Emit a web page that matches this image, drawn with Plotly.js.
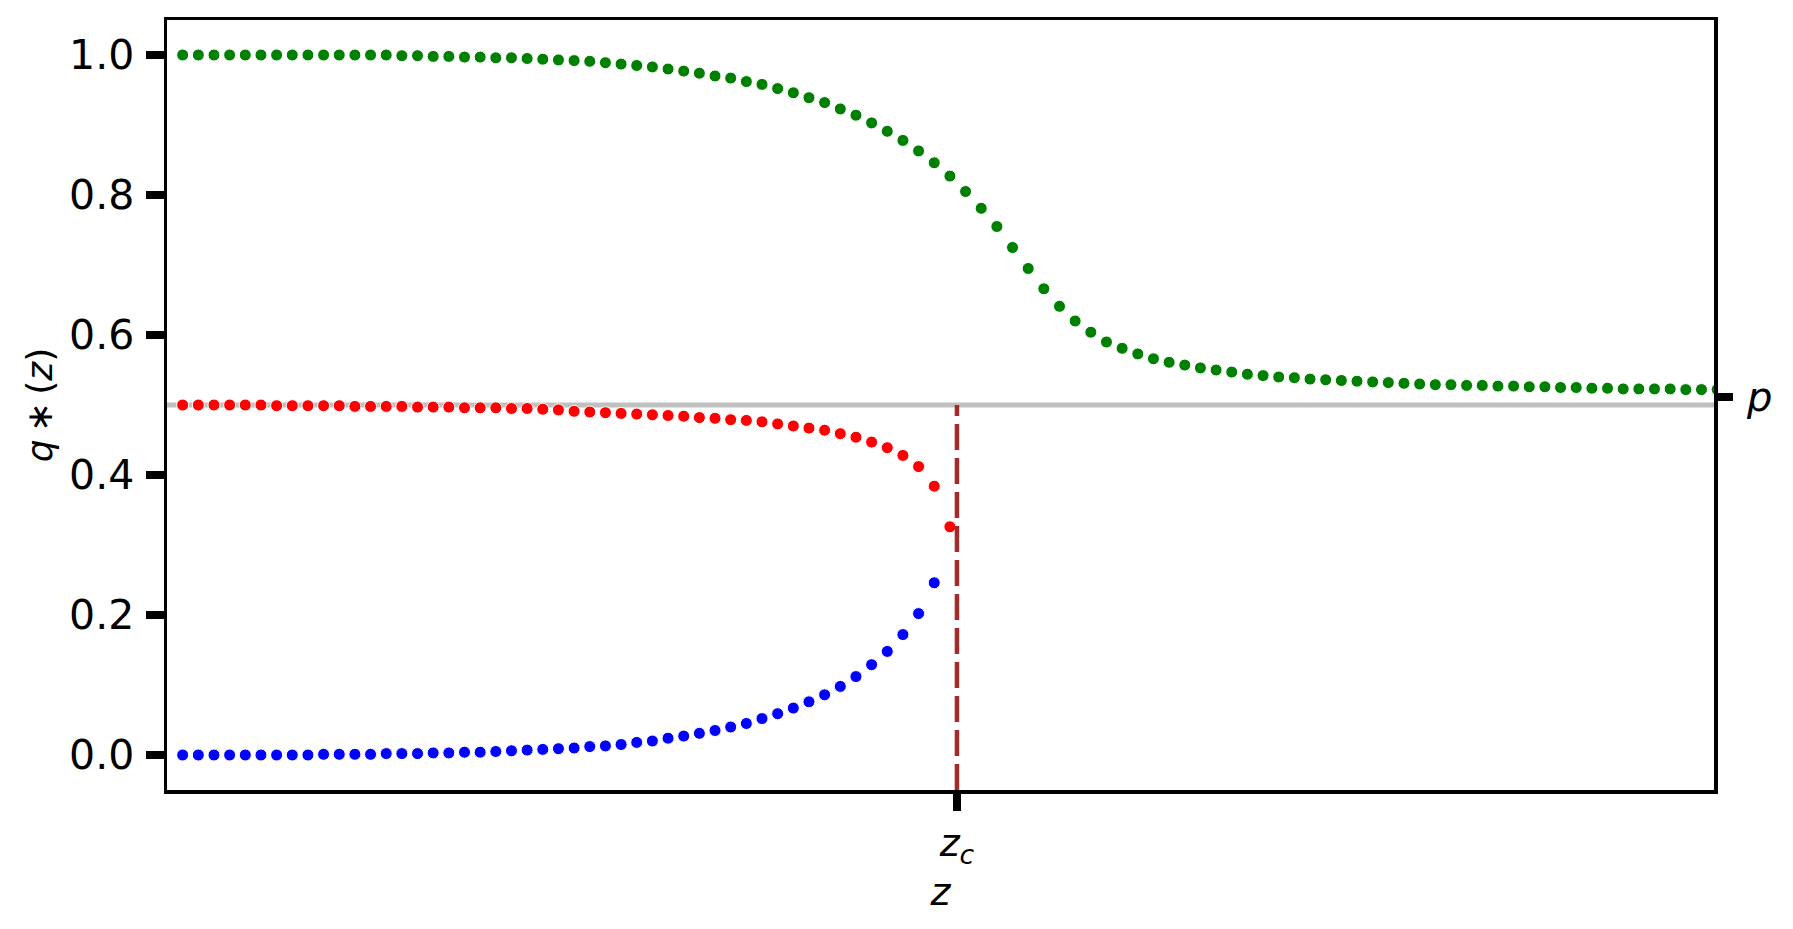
<!DOCTYPE html>
<html>
<head>
<meta charset="utf-8">
<script src="https://cdn.plot.ly/plotly-3.0.1.min.js"></script>
<style>html,body{margin:0;padding:0;background:#fff;}#chart{width:1793px;height:929px;}</style>
</head>
<body>
<div id="chart"></div>
<script>
// z grid (sample index along z)
const zGreen = [0,1,2,3,4,5,6,7,8,9,10,11,12,13,14,15,16,17,18,19,20,21,22,23,24,25,26,27,28,29,30,31,32,33,34,35,36,37,38,39,40,41,42,43,44,45,46,47,48,49,50,51,52,53,54,55,56,57,58,59,60,61,62,63,64,65,66,67,68,69,70,71,72,73,74,75,76,77,78,79,80,81,82,83,84,85,86,87,88,89,90,91,92,93,94,95,96,97,98];
const qGreen = [1.000,1.000,1.000,1.000,1.000,1.000,1.000,1.000,1.000,1.000,1.000,1.000,1.000,
  1.000,0.999,0.999,0.998,0.998,0.997,0.997,0.996,0.996,0.995,0.994,0.993,0.992,0.991,0.989,0.987,0.985,
  0.983,0.980,0.977,0.974,0.970,0.967,0.962,0.958,0.952,0.946,0.939,0.932,0.923,0.914,0.903,0.891,0.878,0.863,0.846,0.827,
  0.805,0.781,0.755,0.725,0.695,0.666,0.641,0.620,0.604,0.590,0.581,0.573,0.566,0.561,0.557,0.553,0.550,0.547,0.544,0.542,
  0.540,0.539,0.537,0.536,0.535,0.534,0.533,0.532,0.531,0.530,0.529,0.529,0.528,0.528,0.527,0.527,0.526,0.526,0.525,0.525,
  0.524,0.524,0.523,0.523,0.523,0.523,0.522,0.522,0.522];

const zRed = [0,1,2,3,4,5,6,7,8,9,10,11,12,13,14,15,16,17,18,19,20,21,22,23,24,25,26,27,28,29,30,31,32,33,34,35,36,37,38,39,40,41,42,43,44,45,46,47,48,49];
const qRed = [0.500,0.500,0.500,0.500,0.500,0.500,0.499,0.499,0.499,0.499,0.499,0.498,0.498,0.498,0.498,
  0.497,0.497,0.497,0.496,0.496,0.496,0.495,0.495,0.494,0.493,0.491,0.490,0.489,0.488,0.487,
  0.486,0.485,0.484,0.482,0.481,0.479,0.478,0.476,0.473,0.470,0.467,0.464,0.459,0.454,0.447,
  0.439,0.428,0.412,0.384,0.326];

const zBlue = [0,1,2,3,4,5,6,7,8,9,10,11,12,13,14,15,16,17,18,19,20,21,22,23,24,25,26,27,28,29,30,31,32,33,34,35,36,37,38,39,40,41,42,43,44,45,46,47,48];
const qBlue = [0.000,0.000,0.000,0.000,0.000,0.000,0.000,0.000,0.000,0.001,0.001,0.001,0.001,
  0.002,0.002,0.002,0.003,0.003,0.004,0.004,0.005,0.006,0.007,0.008,0.009,0.010,0.012,0.013,0.015,0.018,
  0.020,0.024,0.027,0.031,0.035,0.040,0.045,0.052,0.059,0.067,0.076,0.086,0.098,0.112,0.129,0.148,0.172,0.202,0.246];

const P_LINE = 0.5;          // horizontal reference p
const P_TICK = 0.511;        // where the right-hand "p" tick sits
const Z_C = 49.45;           // critical z
const yTicks = [0.0, 0.2, 0.4, 0.6, 0.8, 1.0];
const Z_RANGE = [-1, 97.8];
const Q_RANGE = [-0.05, 1.05];

const FONT = 'DejaVu Sans';
function dots(x, y, color) {
  return {x: x, y: y, type: 'scatter', mode: 'markers', cliponaxis: true, showlegend: false, hoverinfo: 'skip',
    marker: {color: color, size: 12, line: {color: '#ffffff', width: 1}}};
}

const data = [
  dots(zBlue, qBlue, '#0000ff'),
  dots(zRed, qRed, '#ff0000'),
  dots(zGreen, qGreen, '#008000')
];

const layout = {
  width: 1793, height: 929,
  margin: {l: 167, r: 79, t: 20, b: 139},
  paper_bgcolor: '#ffffff', plot_bgcolor: '#ffffff',
  font: {family: FONT, size: 36, color: '#000'},
  showlegend: false,
  xaxis: {
    range: Z_RANGE, showgrid: false, zeroline: false,
    showline: true, mirror: true, linecolor: '#000', linewidth: 3.5,
    ticks: 'outside', ticklen: 17, tickwidth: 8, tickcolor: '#000',
    tickvals: [Z_C], ticktext: ['<i>z</i><sub><i>c</i></sub>'],
    tickfont: {family: FONT, size: 38},
    ticklabelstandoff: 0,
    title: {text: '<i>z</i>', font: {family: FONT, size: 38}, standoff: 4}
  },
  yaxis: {
    range: Q_RANGE, showgrid: false, zeroline: false,
    showline: true, mirror: true, linecolor: '#000', linewidth: 3.5,
    ticks: 'outside', ticklen: 18, tickwidth: 8, tickcolor: '#000',
    tickvals: yTicks, tickformat: '.1f',
    tickfont: {family: FONT, size: 41},
    ticklabelstandoff: 3,
    title: {text: '<i>q</i>\u2009\u2217\u2009(<i>z</i>)', font: {family: FONT, size: 36}, standoff: 6}
  },
  yaxis2: {
    range: Q_RANGE, overlaying: 'y', side: 'right', showgrid: false, zeroline: false,
    showline: false,
    ticks: 'outside', ticklen: 18, tickwidth: 8, tickcolor: '#000',
    tickvals: [P_TICK], ticktext: ['<i>p</i>'],
    tickfont: {family: FONT, size: 40},
    ticklabelstandoff: 6
  },
  shapes: [
    {type: 'line', layer: 'below', xref: 'paper', x0: 0, x1: 1, yref: 'y', y0: P_LINE, y1: P_LINE,
     line: {color: '#c0c0c0', width: 5}},
    {type: 'line', layer: 'above', xref: 'x', x0: Z_C, x1: Z_C, yref: 'y', y0: Q_RANGE[0], y1: P_LINE,
     line: {color: '#a52a2a', width: 4.5, dash: '26px,8px'}}
  ]
};

// an invisible trace bound to the right axis so it is drawn
data.push({x: [Z_RANGE[0]], y: [P_TICK], yaxis: 'y2', type: 'scatter', mode: 'markers',
  marker: {opacity: 0}, showlegend: false, hoverinfo: 'skip'});

Plotly.newPlot('chart', data, layout, {displayModeBar: false, staticPlot: true});
</script>
</body>
</html>
